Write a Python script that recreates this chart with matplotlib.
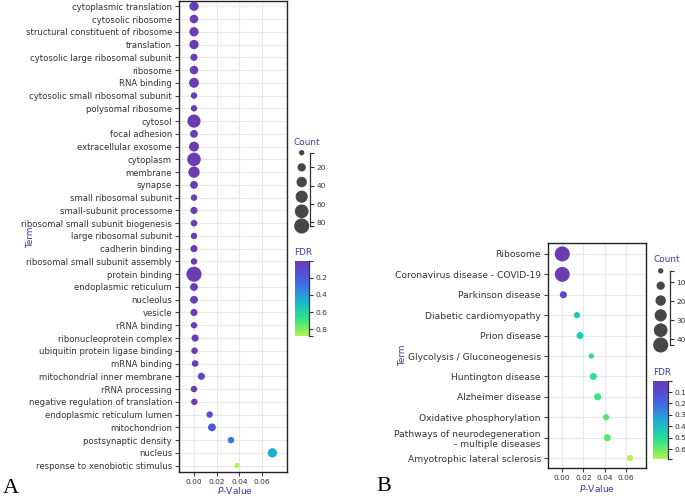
import numpy as np
import matplotlib
matplotlib.use("Agg")
import matplotlib.pyplot as plt
from matplotlib.colors import LinearSegmentedColormap, Normalize

# ---------------- data ----------------
terms_a = ["cytoplasmic translation", "cytosolic ribosome", "structural constituent of ribosome",
           "translation", "cytosolic large ribosomal subunit", "ribosome", "RNA binding",
           "cytosolic small ribosomal subunit", "polysomal ribosome", "cytosol", "focal adhesion",
           "extracellular exosome", "cytoplasm", "membrane", "synapse", "small ribosomal subunit",
           "small-subunit processome", "ribosomal small subunit biogenesis", "large ribosomal subunit",
           "cadherin binding", "ribosomal small subunit assembly", "protein binding",
           "endoplasmic reticulum", "nucleolus", "vesicle", "rRNA binding",
           "ribonucleoprotein complex", "ubiquitin protein ligase binding", "mRNA binding",
           "mitochondrial inner membrane", "rRNA processing", "negative regulation of translation",
           "endoplasmic reticulum lumen", "mitochondrion", "postsynaptic density", "nucleus",
           "response to xenobiotic stimulus"]
pval_a = [0.0, 0.0, 0.0, 0.0, 0.0, 0.0, 0.0, 0.0, 0.0, 0.0, 0.0,
          0.0, 0.0, 0.0, 0.0, 0.0, 0.0, 0.0, 0.0, 0.0, 0.0, 0.0,
          0.0, 0.0, 0.0, 0.0, 0.001, 0.0005, 0.001, 0.0065, 0.0, 0.0003,
          0.0138, 0.0158, 0.0326, 0.0690, 0.0379]
count_a = [27, 22, 27, 27, 13, 22, 32, 9, 9, 62, 17,
           32, 66, 44, 17, 9, 13, 10, 9, 13, 9, 84,
           17, 17, 13, 9, 13, 10, 10, 13, 9, 9,
           9, 17, 9, 27, 4]
fdr_a = [0.0, 0.0, 0.0, 0.0, 0.0, 0.0, 0.0, 0.0, 0.0, 0.0, 0.0,
         0.0, 0.0, 0.0, 0.0, 0.0, 0.0, 0.0, 0.0, 0.0, 0.0, 0.0,
         0.0, 0.0, 0.0, 0.0, 0.02, 0.01, 0.02, 0.08, 0.01, 0.01,
         0.13, 0.18, 0.28, 0.45, 0.88]

terms_b = ["Ribosome", "Coronavirus disease - COVID-19", "Parkinson disease",
           "Diabetic cardiomyopathy", "Prion disease", "Glycolysis / Gluconeogenesis",
           "Huntington disease", "Alzheimer disease", "Oxidative phosphorylation",
           "Pathways of neurodegeneration\n- multiple diseases", "Amyotrophic lateral sclerosis"]
pval_b = [0.0, 0.0, 0.001, 0.0139, 0.0168, 0.0275, 0.0294, 0.0335, 0.0414, 0.0427, 0.0642]
count_b = [43, 42, 8, 6, 8, 4, 8, 8, 6, 8, 6]
fdr_b = [0.0, 0.0, 0.07, 0.43, 0.44, 0.52, 0.52, 0.54, 0.58, 0.58, 0.69]

xticks = [0.00, 0.02, 0.04, 0.06]
size_ticks_a = [20, 40, 60, 80]
size_ticks_b = [10, 20, 30, 40]
fdr_ticks_a = [0.2, 0.4, 0.6, 0.8]
fdr_ticks_b = [0.1, 0.2, 0.3, 0.4, 0.5, 0.6]

# ---------------- style ----------------
W, H = 685, 497
fig = plt.figure(figsize=(W / 100, H / 100), dpi=100)
plt.rcParams['font.family'] = ['DejaVu Sans']

cmap = LinearSegmentedColormap.from_list("fdr", [
    (0.00, "#6a3db0"), (0.12, "#5a48d0"), (0.22, "#4a5ade"), (0.35, "#3a78e2"),
    (0.50, "#22a8d6"), (0.63, "#1ccab4"), (0.76, "#2ee08c"), (0.89, "#72ee62"),
    (1.00, "#b8f058")])
TITLE_C = "#3a3aa8"
TXT_C = "#333333"
GRID_C = "#e9e9e9"
SMIN, SMAX = 15, 118


def size_of(c, cmin, cmax):
    c = np.asarray(c, dtype=float)
    return SMIN + (c - cmin) / (cmax - cmin) * (SMAX - SMIN)


def ax_px(l, t, r, b):
    return fig.add_axes([l / W, 1 - b / H, (r - l) / W, (b - t) / H])


def main_panel(box, terms, pv, cnt, fdr, xlim, ytop, ybot, yfs):
    ax = ax_px(*box)
    n = len(terms)
    y = np.arange(n)
    cmin, cmax = min(cnt), max(cnt)
    norm = Normalize(min(fdr), max(fdr))
    ax.scatter(pv, y, s=size_of(cnt, cmin, cmax), c=fdr, cmap=cmap, norm=norm,
               edgecolors='none', zorder=3, clip_on=False)
    ax.set_yticks(y)
    ax.set_yticklabels(terms, fontsize=yfs, color=TXT_C)
    ax.set_xticks(xticks)
    ax.set_xticklabels([f"{v:.2f}" for v in xticks], fontsize=5.4, color=TXT_C)
    ax.set_xlim(*xlim)
    ax.set_ylim(ybot, ytop)
    ax.grid(True, color=GRID_C, lw=0.8, zorder=0)
    ax.set_axisbelow(True)
    for s in ax.spines.values():
        s.set_color("#222222")
        s.set_linewidth(1.0)
    ax.tick_params(axis='both', length=3, width=0.8, color="#444444", pad=2)
    return ax, norm, cmin, cmax


def size_legend(box, cmin, cmax, ticks, xc):
    ax = ax_px(*box)
    vals = np.linspace(cmin, cmax, 6)
    ax.scatter([xc] * 6, vals, s=size_of(vals, cmin, cmax), color="#474747",
               edgecolors='none', clip_on=False)
    ax.set_xlim(0, 1)
    ax.set_ylim(cmax, cmin)
    for k in ['left', 'top', 'bottom']:
        ax.spines[k].set_visible(False)
    ax.spines['right'].set_color("#333333")
    ax.spines['right'].set_linewidth(0.9)
    ax.set_xticks([])
    ax.yaxis.tick_right()
    ax.set_yticks(ticks)
    ax.set_yticklabels([str(t) for t in ticks], fontsize=5.4, color=TXT_C)
    ax.set_yticks([cmin, cmax], minor=True)
    ax.tick_params(axis='y', which='both', length=3, width=0.8, color="#333333", pad=1.5)
    ax.patch.set_alpha(0)


def color_bar(box, norm, ticks):
    ax = ax_px(*box)
    lv = np.linspace(norm.vmin, norm.vmax, 257)
    mid = (lv[:-1] + lv[1:]) / 2
    ax.pcolormesh([0, 1], lv, mid[:, None], cmap=cmap, norm=norm, shading='flat')
    ax.set_xlim(0, 1)
    ax.set_ylim(norm.vmax, norm.vmin)
    for k in ['left', 'top', 'bottom']:
        ax.spines[k].set_visible(False)
    ax.spines['right'].set_color("#333333")
    ax.spines['right'].set_linewidth(0.9)
    ax.set_xticks([])
    ax.yaxis.tick_right()
    ax.set_yticks(ticks)
    ax.set_yticklabels([f"{t:.1f}" for t in ticks], fontsize=5.4, color=TXT_C)
    ax.set_yticks([norm.vmin, norm.vmax], minor=True)
    ax.tick_params(axis='y', which='both', length=3, width=0.8, color="#333333", pad=1.5)


def ftext(x, y, s, **kw):
    fig.text(x / W, 1 - y / H, s, **kw)


# ---------------- panel A ----------------
axA, normA, cminA, cmaxA = main_panel((179, 0.5, 287, 472), terms_a, pval_a, count_a, fdr_a,
                                      (-0.0132, 0.0819), -0.45, len(terms_a) - 0.5, 6.15)
ftext(31, 237, "Term", rotation=90, ha='center', va='center', fontsize=6.4, color=TITLE_C)
ftext(235, 491, r"$\mathit{P}$-Value", ha='center', va='center', fontsize=6.6, color=TITLE_C)
ftext(294, 142.7, "Count", ha='left', va='center', fontsize=6.4, color=TITLE_C)
size_legend((290, 152.7, 310, 226), cminA, cmaxA, size_ticks_a, 0.585)
ftext(294, 252.7, "FDR", ha='left', va='center', fontsize=6.4, color=TITLE_C)
color_bar((295, 260.7, 309.3, 336), normA, fdr_ticks_a)
ftext(3, 493, "A", ha='left', va='baseline', fontsize=16, family='Liberation Serif', color='black')

# ---------------- panel B ----------------
axB, normB, cminB, cmaxB = main_panel((547.7, 243.3, 646, 467.7), terms_b, pval_b, count_b, fdr_b,
                                      (-0.0138, 0.0793), -0.52, len(terms_b) - 0.53, 6.6)
ftext(403, 355, "Term", rotation=90, ha='center', va='center', fontsize=6.4, color=TITLE_C)
ftext(596.8, 488.7, r"$\mathit{P}$-Value", ha='center', va='center', fontsize=6.6, color=TITLE_C)
ftext(653.3, 259.3, "Count", ha='left', va='center', fontsize=6.4, color=TITLE_C)
size_legend((650, 270.9, 670, 345), cminB, cmaxB, size_ticks_b, 0.535)
ftext(653.3, 372.7, "FDR", ha='left', va='center', fontsize=6.4, color=TITLE_C)
color_bar((653.3, 380.7, 668.3, 459.3), normB, fdr_ticks_b)
ftext(376, 491, "B", ha='left', va='baseline', fontsize=16, family='Liberation Serif', color='black')

fig.savefig("out.png", dpi=100)
